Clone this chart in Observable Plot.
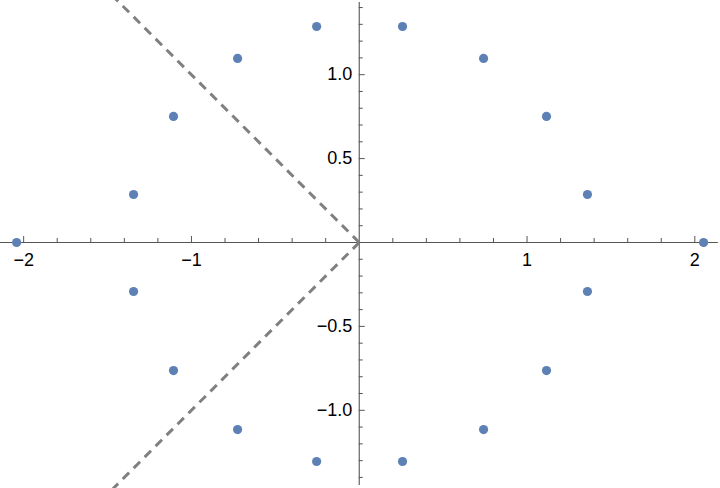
<!DOCTYPE html>
<html>
<head>
<meta charset="utf-8">
<script src="https://cdn.jsdelivr.net/npm/d3@7"></script>
<script src="https://cdn.jsdelivr.net/npm/@observablehq/plot@0.6"></script>
<style>
  html, body { margin: 0; padding: 0; background: #fff; }
  #chart { width: 720px; height: 488px; }
</style>
</head>
<body>
<div id="chart"></div>
<script>
// Point coordinates
const pointX = [0.258, 0.741, 1.116, 1.360, 2.052, 1.360, 1.116, 0.741, 0.258,
                -0.254, -0.725, -1.107, -1.345, -2.042, -1.345, -1.107, -0.725, -0.254];
const pointY = [1.287, 1.097, 0.751, 0.286, 0, -0.292, -0.763, -1.115, -1.305,
                1.287, 1.097, 0.751, 0.286, 0, -0.292, -0.763, -1.115, -1.305];

// Dashed rays from the origin
const rayX = [-1.6, -1.6];
const rayY = [1.6, -1.6];

// Ticks
const xMajor = [-2, -1, 1, 2];
const xMajorLabels = ["−2", "−1", "1", "2"];
const xMinor = [-1.8, -1.6, -1.4, -1.2, -0.8, -0.6, -0.4, -0.2, 0.2, 0.4, 0.6, 0.8, 1.2, 1.4, 1.6, 1.8];
const yMajor = [-1, -0.5, 0.5, 1];
const yMajorLabels = ["−1.0", "−0.5", "0.5", "1.0"];
const yMinor = [-1.4, -1.3, -1.2, -1.1, -0.9, -0.8, -0.7, -0.6, -0.4, -0.3, -0.2, -0.1,
                0.1, 0.2, 0.3, 0.4, 0.6, 0.7, 0.8, 0.9, 1.1, 1.2, 1.3, 1.4];

const W = 720, H = 488;
const xDomain = [-2.138, 2.153];
const yDomain = [-1.466, 1.442];
const xAxisExtent = [-2.14, 2.14];
const yAxisExtent = [-1.448, 1.43];

const kx = W / (xDomain[1] - xDomain[0]);
const ky = H / (yDomain[1] - yDomain[0]);
const majLen = 6 / ky, minLen = 4 / ky;
const majLenX = 6 / kx, minLenX = 4 / kx;

const points = pointX.map((x, i) => ({x, y: pointY[i]}));
const rays = rayX.flatMap((x, i) => [
  {x: 0, y: 0, ray: i},
  {x, y: rayY[i], ray: i}
]);
const axisColor = "#555555";

const plot = Plot.plot({
  width: W,
  height: H,
  margin: 0,
  x: {domain: xDomain, axis: null},
  y: {domain: yDomain, axis: null},
  style: {fontFamily: "'Liberation Sans', Arial, sans-serif", background: "#fff"},
  marks: [
    // axes
    Plot.ruleY([0], {x1: xAxisExtent[0], x2: xAxisExtent[1], stroke: axisColor, strokeWidth: 1.1}),
    Plot.ruleX([0], {y1: yAxisExtent[0], y2: yAxisExtent[1], stroke: axisColor, strokeWidth: 1.1}),
    // x ticks (pointing up)
    Plot.ruleX(xMajor, {x: d => d, y1: 0, y2: majLen, stroke: axisColor, strokeWidth: 1}),
    Plot.ruleX(xMinor, {x: d => d, y1: 0, y2: minLen, stroke: axisColor, strokeWidth: 1}),
    // y ticks (pointing right)
    Plot.ruleY(yMajor, {y: d => d, x1: 0, x2: majLenX, stroke: axisColor, strokeWidth: 1}),
    Plot.ruleY(yMinor, {y: d => d, x1: 0, x2: minLenX, stroke: axisColor, strokeWidth: 1}),
    // tick labels
    Plot.text(xMajor, {x: d => d, y: 0, text: (d, i) => xMajorLabels[i], dy: 18, fontSize: 18, fill: "#000"}),
    Plot.text(yMajor, {x: 0, y: d => d, text: (d, i) => yMajorLabels[i], dx: -7, textAnchor: "end", fontSize: 18, fill: "#000"}),
    // dashed rays
    Plot.line(rays, {x: "x", y: "y", z: "ray", stroke: "#808080", strokeWidth: 3, strokeDasharray: "9,6.5", strokeLinecap: "butt", clip: true}),
    // points
    Plot.dot(points, {x: "x", y: "y", r: 4.6, fill: "#5E81B5", stroke: "none"})
  ]
});
document.getElementById("chart").appendChild(plot);
</script>
</body>
</html>
